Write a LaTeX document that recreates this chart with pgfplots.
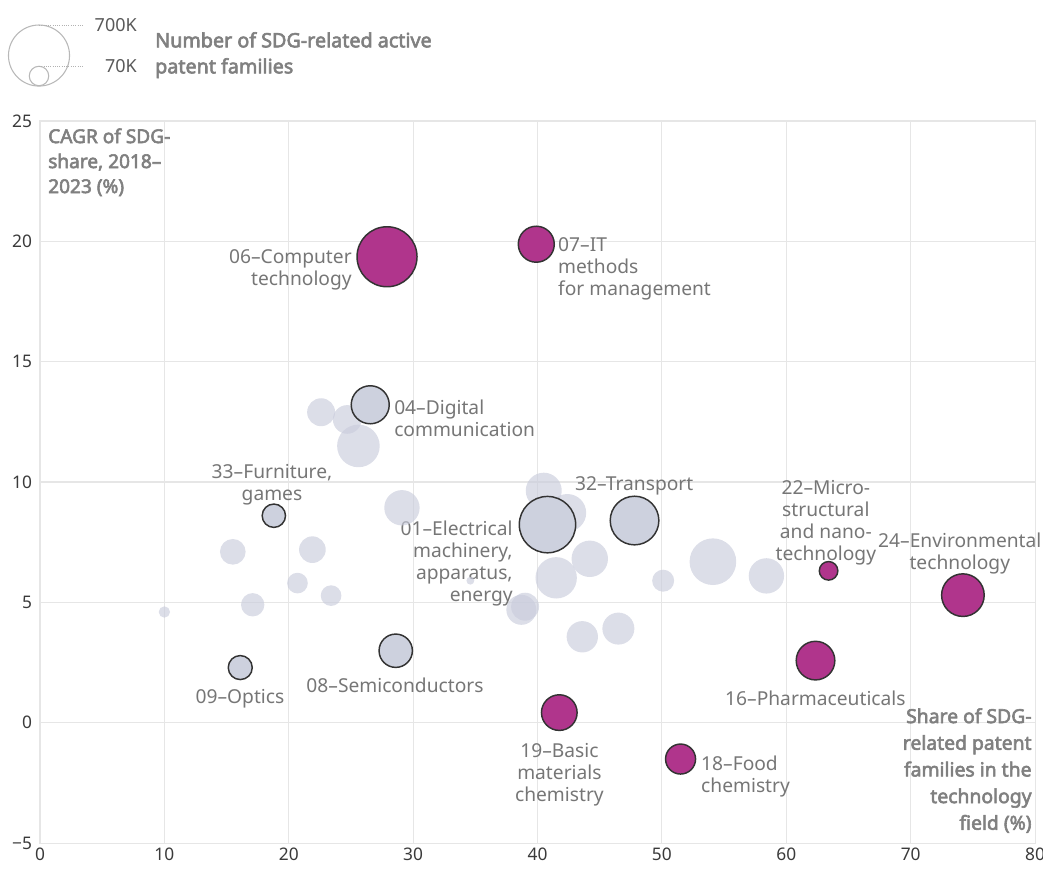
\documentclass[border=0pt]{standalone}
\usepackage{fontspec}
\setmainfont{Noto Sans}[BoldFont={Noto Sans}, BoldFeatures={FakeBold=3}]
\usepackage{pgfplots}
\usepackage{pgfplotstable}
\pgfplotsset{compat=1.18}

\definecolor{magbub}{HTML}{B0358C}
\definecolor{hibub}{HTML}{CDD1DE}
\definecolor{bgbub}{HTML}{C9CCDC}
\definecolor{gridc}{HTML}{E6E6E6}
\definecolor{lblc}{HTML}{767676}
\definecolor{ttlc}{HTML}{808080}
\definecolor{tickc}{HTML}{3A3A3A}

% x = share of SDG-related families (%), y = CAGR (%), n = families (thousands)
\pgfplotstableread{
x     y      n
22.6  12.9   152
24.7  12.6   160
25.6  11.5   353
29.1  8.93   243
40.5  9.64   252
42.4  8.72   275
44.2  6.81   258
41.5  6.02   333
38.7  4.69   175
39.0  4.82   152
50.1  5.90   94
54.1  6.69   423
58.4  6.10   243
43.6  3.57   191
46.5  3.91   199
15.5  7.10   128
21.9  7.19   138
20.7  5.80   83
23.4  5.28   83
17.1  4.90   106
10.0  4.60   25
34.6  5.90   12
}\bgdata

\pgfplotstableread{
x     y      n
26.55 13.21  281
18.8  8.60   106
40.8  8.23   618
47.8  8.40   460
16.1  2.29   112
28.6  2.99   216
}\greydata

\pgfplotstableread{
x     y      n
27.9  19.36  700
39.9  19.88  252
63.4  6.31   67
74.2  5.30   353
62.35 2.58   290
51.5  -1.51  175
41.75 0.42   247
}\magdata

% bubble radius: 700K families -> 22.5pt
\pgfplotsset{
  bubble/.style={
    scatter, only marks, mark=*,
    scatter/use mapped color={#1},
    visualization depends on={22.5*sqrt(\thisrow{n}/700)\as\rad},
    scatter/@pre marker code/.append style={/tikz/mark size=\rad},
  },
}

\newcommand\lbl[3]{%
  \node[#1, inner sep=0pt, text=lblc, font=\fontsize{14.4}{16.5}\selectfont] at (#2) {#3};
}

\begin{document}
\begin{tikzpicture}
\begin{axis}[
  width=746.25pt, height=541.5pt, scale only axis,
  xmin=0, xmax=80, ymin=-5, ymax=25,
  xtick={0,10,...,80}, ytick={-5,0,5,10,15,20,25},
  yticklabels={−5,0,5,10,15,20,25},
  grid=major, grid style={gridc, line width=0.8pt},
  axis line style={gridc, line width=0.8pt},
  major tick length=0pt,
  tick label style={font=\fontsize{13}{15}\selectfont, text=tickc},
  yticklabel style={xshift=-2.5pt},
  /pgf/number format/assume math mode=true,
  clip=false,
]
  \coordinate (bl) at (rel axis cs:-0.0402,-0.0416);
  \coordinate (tr) at (rel axis cs:1.0080,1.1676);

  \addplot[bubble={draw=bgbub, draw opacity=0, fill=bgbub, fill opacity=0.65}]
    table[x=x, y=y] {\bgdata};
  \addplot[bubble={draw=black!80, fill=hibub, line width=1.1pt}]
    table[x=x, y=y] {\greydata};
  \addplot[bubble={draw=black!80, fill=magbub, line width=1.1pt}]
    table[x=x, y=y] {\magdata};

  \lbl{anchor=north east, align=right}{axis cs:25.08,19.68}{06--Computer\\technology}
  \lbl{anchor=north west, align=left}{axis cs:41.64,20.18}{07--IT\\methods\\for management}
  \lbl{anchor=north west, align=left}{axis cs:28.46,13.41}{04--Digital\\communication}
  \lbl{anchor=north, align=center}{axis cs:18.65,10.75}{33--Furniture,\\games}
  \lbl{anchor=north east, align=right}{axis cs:38.02,8.38}{01--Electrical\\machinery,\\apparatus,\\energy}
  \lbl{anchor=north west, align=left}{axis cs:43.0,10.25}{32--Transport}
  \lbl{anchor=north, align=center}{axis cs:63.18,10.08}{22--Micro-\\structural\\and nano-\\technology}
  \lbl{anchor=north, align=center}{axis cs:73.95,7.88}{24--Environmental\\technology}
  \lbl{anchor=north, align=center}{axis cs:62.34,1.32}{16--Pharmaceuticals}
  \lbl{anchor=north west, align=left}{axis cs:53.14,-1.37}{18--Food\\chemistry}
  \lbl{anchor=north, align=center}{axis cs:41.76,-0.84}{19--Basic\\materials\\chemistry}
  \lbl{anchor=north, align=center}{axis cs:16.08,1.40}{09--Optics}
  \lbl{anchor=north, align=center}{axis cs:28.54,1.86}{08--Semiconductors}

  % axis titles
  \node[anchor=north west, align=left, inner sep=0pt, text=ttlc,
    font=\bfseries\fontsize{14.3}{18.75}\selectfont] at (axis cs:0.64,24.7)
    {CAGR of SDG-\\share, 2018--\\2023 (\%)};
  \node[anchor=north east, align=right, inner sep=0pt, text=ttlc,
    font=\bfseries\fontsize{14.5}{20}\selectfont] at (axis cs:79.74,0.61)
    {Share of SDG-\\related patent\\families in the\\technology\\field (\%)};

  % size legend
  \draw[black!28, line width=0.8pt] (axis cs:-0.08,27.72) circle[radius=22.9pt];
  \draw[black!28, line width=0.8pt] (axis cs:-0.08,26.87) circle[radius=7.3pt];
  \draw[black!30, densely dotted, line width=0.7pt] (axis cs:-0.08,28.99) -- (axis cs:3.46,28.99);
  \draw[black!30, densely dotted, line width=0.7pt] (axis cs:-0.08,27.25) -- (axis cs:3.46,27.25);
  \node[anchor=east, inner sep=0pt, text=black!65, font=\fontsize{13.5}{16}\selectfont] at (axis cs:7.8,28.97) {700K};
  \node[anchor=east, inner sep=0pt, text=black!65, font=\fontsize{13.5}{16}\selectfont] at (axis cs:7.8,27.27) {70K};
  \node[anchor=north west, align=left, inner sep=0pt, text=ttlc,
    font=\bfseries\fontsize{14.8}{19.5}\selectfont] at (axis cs:9.24,28.70)
    {Number of SDG-related active\\patent families};
\end{axis}
\pgfresetboundingbox
\useasboundingbox (bl) rectangle (tr);
\end{tikzpicture}
\end{document}
